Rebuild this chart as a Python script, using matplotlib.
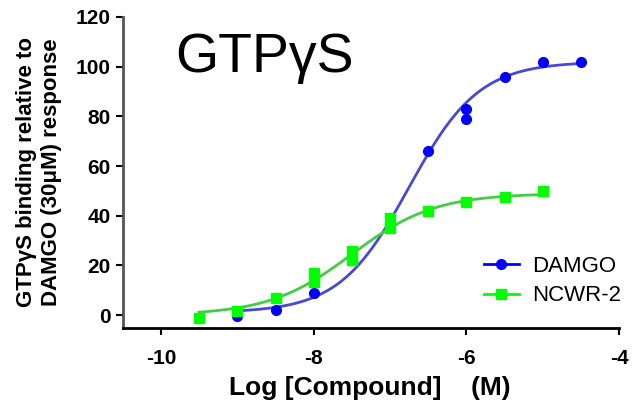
import numpy as np
import matplotlib
matplotlib.use("Agg")
import matplotlib.pyplot as plt

plt.rcParams['font.family'] = ['Liberation Sans', 'DejaVu Sans']
plt.rcParams['axes.unicode_minus'] = False

# measured points (log M, % of DAMGO 30uM response)
damgo_x = [-9, -8.5, -8, -7, -6.5, -6, -6, -5.5, -5, -4.5]
damgo_y = [-0.5, 2, 9, 39, 66, 83, 79, 96, 102, 102]
ncwr_x = [-9.5, -9, -8.5, -8, -8, -7.5, -7.5, -7, -7, -6.5, -6, -5.5, -5]
ncwr_y = [-1, 1.5, 7, 13.5, 17, 22, 26, 35, 39, 42, 45.5, 47.5, 50]

# fitted sigmoid parameters: bottom, top, logEC50, hill slope
damgo_fit = [1, 102, -6.75, 0.95]
ncwr_fit = [0, 49, -7.5, 0.8]


def sigmoid(x, p):
    bottom, top, logec50, hill = p
    return bottom + (top - bottom) / (1 + 10 ** ((logec50 - x) * hill))


fig = plt.figure(figsize=(6.33, 4.04), dpi=100)
ax = fig.add_axes([0.194, 0.188, 0.784, 0.770])

blue = '#0000ff'
green = '#00ff00'

xs = np.linspace(min(damgo_x), max(damgo_x), 200)
ax.plot(xs, sigmoid(xs, damgo_fit), color='#4848d0', lw=2, zorder=2)
xs2 = np.linspace(min(ncwr_x), max(ncwr_x), 200)
ax.plot(xs2, sigmoid(xs2, ncwr_fit), color='#44cc44', lw=2, zorder=2)

ax.plot(damgo_x, damgo_y, 'o', color=blue, ms=7, zorder=3)
ax.plot(ncwr_x, ncwr_y, 's', color=green, ms=7.5, zorder=4)

# legend handles
ax.plot([], [], '-o', color=blue, ms=7, lw=2, label='DAMGO')
ax.plot([], [], '-s', color=green, ms=7.5, lw=2, label='NCWR-2')
ax.legend(loc='lower right', bbox_to_anchor=(1.045, 0.005), frameon=False,
          fontsize=16, handlelength=1.6, handletextpad=0.6, labelspacing=0.4)

ax.set_xlim(-10.5, -4)
ax.set_ylim(-5.2, 120)
ax.set_xticks([-10, -8, -6, -4])
ax.set_yticks([0, 20, 40, 60, 80, 100, 120])
ax.tick_params(labelsize=15, width=1.5, length=5)
ax.tick_params(axis='x', pad=10)
for lab in ax.get_xticklabels() + ax.get_yticklabels():
    lab.set_fontweight('bold')

for s in ['top', 'right']:
    ax.spines[s].set_visible(False)
ax.spines['left'].set_color('#555555')
ax.spines['left'].set_linewidth(2)
ax.spines['bottom'].set_linewidth(2)

fig.text(370 / 633, 1 - 388 / 404, 'Log [Compound]    (M)', fontsize=19,
         fontweight='bold', ha='center', va='center')
fig.text(39 / 633, 1 - 172 / 404,
         'GTP\u03b3S binding relative to\nDAMGO (30\u03bcM) response',
         fontsize=16, fontweight='bold', rotation=90, ha='center',
         va='center', multialignment='center', linespacing=1.25)

ax.text(0.105, 0.823, 'GTP\u03b3S', transform=ax.transAxes, fontsize=40,
        va='baseline', ha='left')

fig.savefig('out.png', dpi=100)
